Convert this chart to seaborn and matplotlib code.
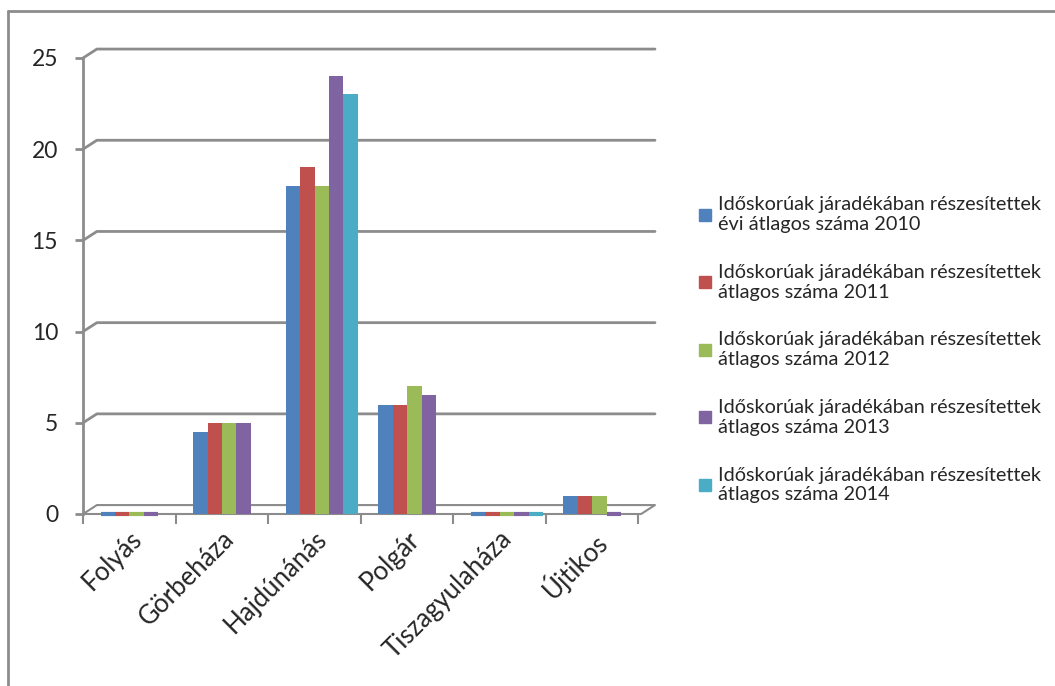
import numpy as np
import pandas as pd
import seaborn as sns
import matplotlib.pyplot as plt
from matplotlib.lines import Line2D

sns.set_theme(style="white")
plt.rcParams['font.family'] = ['Lato', 'DejaVu Sans']

# data
categories = ["Folyás", "Görbeháza", "Hajdúnánás", "Polgár", "Tiszagyulaháza", "Újtikos"]
series = [
    "Időskorúak járadékában részesítettek\névi átlagos száma 2010",
    "Időskorúak járadékában részesítettek\nátlagos száma 2011",
    "Időskorúak járadékában részesítettek\nátlagos száma 2012",
    "Időskorúak járadékában részesítettek\nátlagos száma 2013",
    "Időskorúak járadékában részesítettek\nátlagos száma 2014",
]
v2010 = [0, 4.5, 18, 6, 0, 1]
v2011 = [0, 5, 19, 6, 0, 1]
v2012 = [0, 5, 18, 7, 0, 1]
v2013 = [0, 5, 24, 6.5, 0, 0]
v2014 = [np.nan, np.nan, 23, np.nan, 0, np.nan]
colors = ["#4F81BD", "#C0504D", "#9BBB59", "#8064A2", "#4BACC6"]

rows = []
for name, vals in zip(series, [v2010, v2011, v2012, v2013, v2014]):
    for cat, v in zip(categories, vals):
        rows.append({"telepules": cat, "sorozat": name, "ertek": v})
df = pd.DataFrame(rows).dropna()

fig = plt.figure(figsize=(10.55, 6.86), dpi=100)
ax = fig.add_axes([83 / 1055, 1 - 514 / 686, (655 - 83) / 1055, (514 - 58) / 686])

sns.barplot(data=df, x="telepules", y="ertek", hue="sorozat", order=categories,
            hue_order=series, palette=colors, saturation=1, width=0.78,
            errorbar=None, ax=ax, legend=False)

# small shift into the "depth" of the pseudo 3D floor; zero values as flat discs
for p in ax.patches:
    p.set_clip_on(False)
    p.set_x(p.get_x() + 0.08)
    if p.get_height() == 0:
        p.set_edgecolor(p.get_facecolor())
        p.set_linewidth(3)
    else:
        p.set_linewidth(0)

grey = "#8c8c8c"
dx, dy = 0.15, 0.49
xmax = 5.68
ax.set_xlim(-0.5, xmax)
ax.set_ylim(0, 25)
ax.set_yticks([0, 5, 10, 15, 20, 25])

# back wall gridlines with pseudo 3D offset
for v in [5, 10, 15, 20, 25]:
    ax.plot([-0.5, -0.5 + dx, xmax], [v, v + dy, v + dy], color=grey, lw=2,
            clip_on=False, zorder=0)
# floor
ax.plot([-0.5, -0.5 + dx, xmax, xmax - dx, -0.5], [0, dy, dy, 0, 0],
        color=grey, lw=1.5, clip_on=False, zorder=0)

for s in ["top", "right", "bottom"]:
    ax.spines[s].set_visible(False)
ax.spines["left"].set_color(grey)
ax.spines["left"].set_linewidth(2)

ax.set_xticks(np.arange(-0.5, 6, 1), minor=True)
ax.tick_params(axis="x", which="minor", length=7, color=grey, width=1.5, bottom=True)
ax.tick_params(axis="x", which="major", length=0, pad=9)
ax.tick_params(axis="y", length=6, color=grey, width=2, left=True, pad=12, labelsize=16.5)
ax.set_xticks(range(len(categories)))
ax.set_xticklabels(categories, rotation=45, ha="right", rotation_mode="anchor", fontsize=18.5)
ax.set_xlabel("")
ax.set_ylabel("")

handles = [Line2D([0], [0], marker="s", linestyle="", markersize=8,
                  markerfacecolor=c, markeredgecolor=c) for c in colors]
fig.legend(handles, series, loc="center left", bbox_to_anchor=(681 / 1055, 0.49),
           frameon=False, fontsize=14.3, handlelength=0.6, handletextpad=0.35,
           labelspacing=1.55)

# outer chart border
fig.add_artist(Line2D([8 / 1055, 8 / 1055], [0, 1 - 11 / 686], color=grey, lw=2))
fig.add_artist(Line2D([8 / 1055, 1], [1 - 11 / 686, 1 - 11 / 686], color=grey, lw=2))

fig.savefig("out.png", dpi=100)
